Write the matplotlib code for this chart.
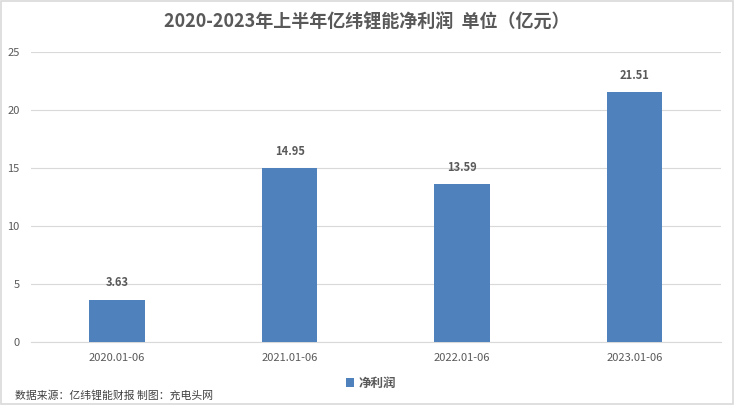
import matplotlib.pyplot as plt
from matplotlib import rcParams
from matplotlib.patches import Rectangle

rcParams['font.family'] = ['Noto Sans CJK SC', 'DejaVu Sans']
rcParams['font.size'] = 8

periods = ['2020.01-06', '2021.01-06', '2022.01-06', '2023.01-06']
net_profit = [3.63, 14.95, 13.59, 21.51]
y_ticks = [0, 5, 10, 15, 20, 25]

text_color = '#595959'
bar_color = '#4F81BD'

fig = plt.figure(figsize=(7.34, 4.05), dpi=100)
ax = fig.add_axes([0.042, 0.156, 0.940, 0.716])

x = range(len(periods))
ax.bar(x, net_profit, width=0.32, color=bar_color, zorder=3, label='净利润')
for i, v in zip(x, net_profit):
    ax.text(i, v + 0.9, f'{v:.2f}', ha='center', va='bottom',
            fontsize=8, fontweight='bold', color=text_color)

ax.set_xlim(-0.5, len(periods) - 0.5)
ax.set_ylim(0, 25)
ax.set_yticks(y_ticks)
ax.set_xticks(list(x))
ax.set_xticklabels(periods)
ax.tick_params(axis='both', length=0, colors=text_color, labelsize=8)
ax.tick_params(axis='x', pad=8)
ax.tick_params(axis='y', pad=8)
ax.grid(axis='y', color='#D9D9D9', linewidth=0.8, zorder=0)
for side in ['top', 'right', 'left']:
    ax.spines[side].set_visible(False)
ax.spines['bottom'].set_color('#D9D9D9')

fig.text(0.5, 0.945, '2020-2023年上半年亿纬锂能净利润  单位（亿元）',
         ha='center', va='center', fontsize=13, fontweight='bold',
         color=text_color)

leg = fig.legend(loc='center', bbox_to_anchor=(0.505, 0.053), frameon=False,
                 handlelength=0.7, handleheight=0.7, handletextpad=0.3,
                 fontsize=9)
for t in leg.get_texts():
    t.set_color(text_color)
    t.set_fontweight('bold')

fig.text(0.02, 0.025, '数据来源：亿纬锂能财报 制图：充电头网',
         ha='left', va='center', fontsize=7.8, color='#404040')

fig.patches.append(Rectangle((0.001, 0.002), 0.997, 0.995,
                             transform=fig.transFigure, fill=False,
                             edgecolor='#D9D9D9', linewidth=1.2))

fig.savefig('out.png', dpi=100)
